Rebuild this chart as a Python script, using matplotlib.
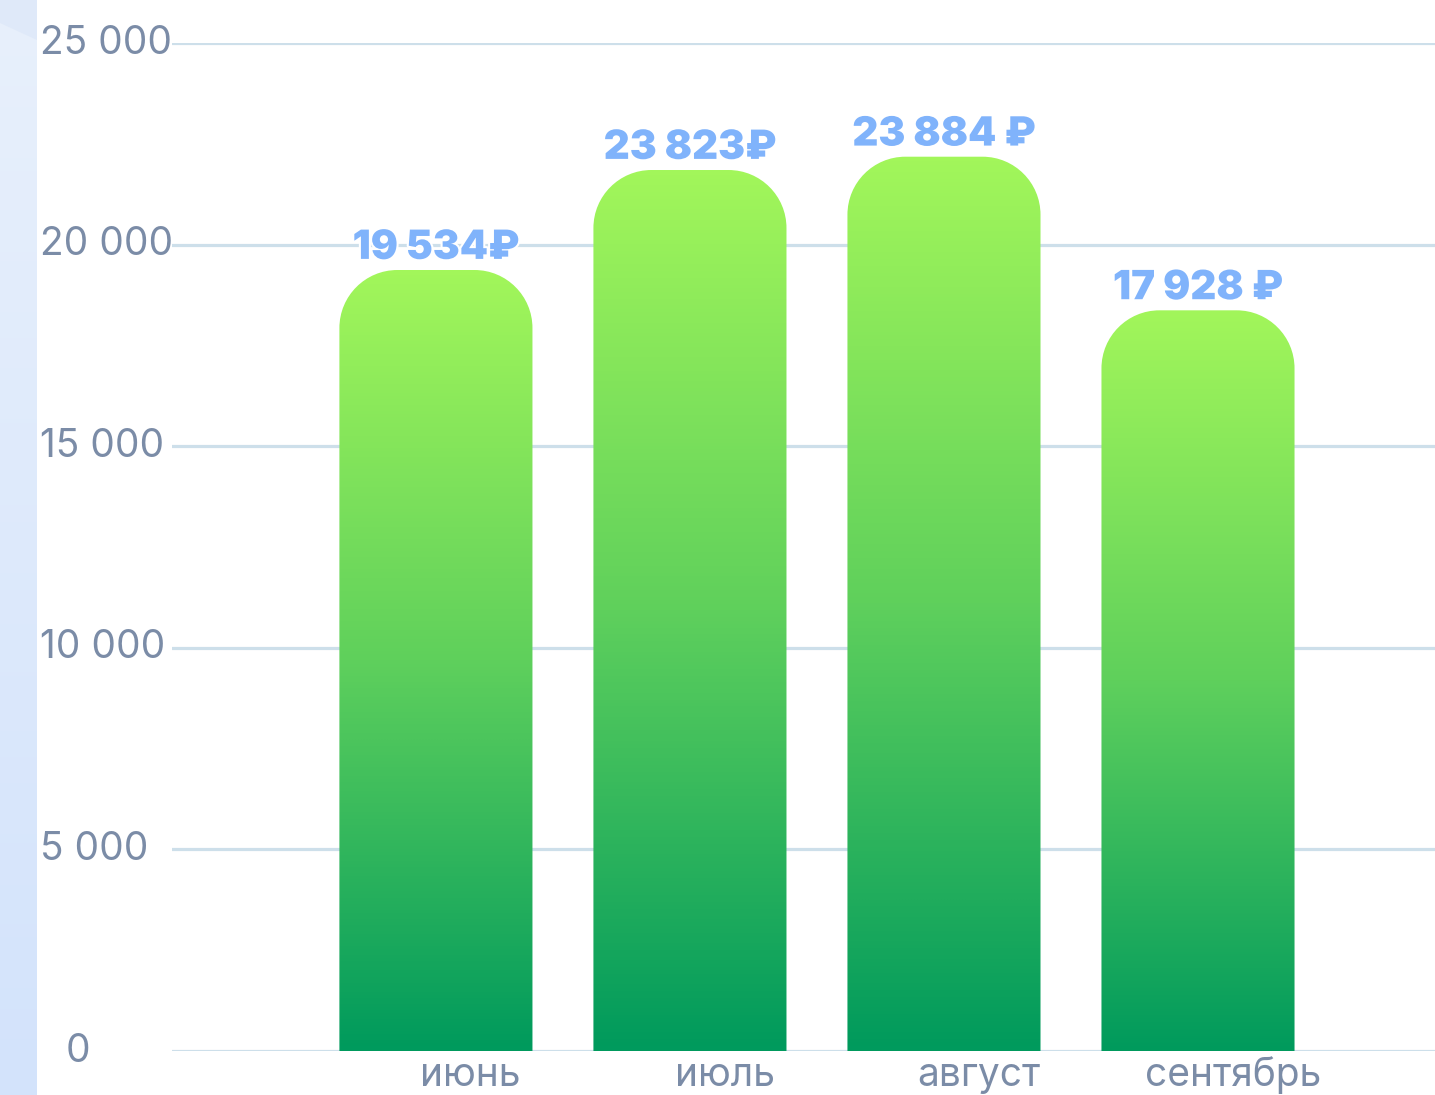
import numpy as np
import matplotlib
matplotlib.use("Agg")
import matplotlib.pyplot as plt
from matplotlib.path import Path
from matplotlib.patches import PathPatch, Polygon
from matplotlib.colors import LinearSegmentedColormap
import matplotlib.patheffects as pe

# ---- data ----
months = ["июнь", "июль", "август", "сентябрь"]
bar_values = [19370, 21850, 22180, 18370]          # heights as drawn
value_labels = ["19 534₽", "23 823₽", "23 884 ₽", "17 928 ₽"]
y_ticks = [0, 5000, 10000, 15000, 20000, 25000]
y_tick_labels = ["0", "5 000", "10 000", "15 000", "20 000", "25 000"]

FONT = ["Inter", "DejaVu Sans"]
TICK_COLOR = "#7b8ca7"
GRID_COLOR = "#cddfea"
LABEL_COLOR = "#80b3fb"

W, H = 1435, 1095
fig = plt.figure(figsize=(W / 100, H / 100), dpi=100)
fig.patch.set_facecolor("white")

# left decorative strip
sax = fig.add_axes([0, 0, 37 / W, 1])
sax.set_axis_off()
strip_cmap = LinearSegmentedColormap.from_list("strip", ["#e8f0fc", "#d3e3fb"])
sax.imshow(np.linspace(0, 1, 256).reshape(-1, 1), cmap=strip_cmap, aspect="auto",
           extent=(0, 1, 0, 1), origin="upper")
sax.add_patch(Polygon([(0, 1), (1, 1), (1, 1 - 40 / H), (0, 1 - 23 / H)],
                      closed=True, facecolor="#dfe9f9", edgecolor="none"))
sax.set_xlim(0, 1)
sax.set_ylim(0, 1)

# main axes
ax = fig.add_axes([172 / W, 44 / H, (W - 172) / W, (1051 - 43) / H])
ax.set_facecolor("none")
x = np.arange(len(months))
ax.set_xlim(-1.039, 3.933)
ax.set_ylim(0, 25000)
for s in ax.spines.values():
    s.set_visible(False)
ax.set_xticks([])
ax.set_yticks([])

for v in y_ticks:
    ax.axhline(v, color=GRID_COLOR, lw=2.3, zorder=1)

bar_w = 0.76
rad_px = 58
bar_cmap = LinearSegmentedColormap.from_list("bar", ["#009a5d", "#5fd05c", "#a2f65a"])

fig.canvas.draw()
px_per_x = ax.transData.transform((1, 0))[0] - ax.transData.transform((0, 0))[0]
px_per_y = ax.transData.transform((0, 1000))[1] - ax.transData.transform((0, 0))[1]
rx = rad_px / px_per_x
ry = rad_px / px_per_y * 1000
k = 0.5523

for xi, h, lab in zip(x, bar_values, value_labels):
    x0, x1 = xi - bar_w / 2, xi + bar_w / 2
    verts = [(x0, 0), (x0, h - ry),
             (x0, h - ry + k * ry), (x0 + rx - k * rx, h), (x0 + rx, h),
             (x1 - rx, h),
             (x1 - rx + k * rx, h), (x1, h - ry + k * ry), (x1, h - ry),
             (x1, 0), (x0, 0)]
    codes = [Path.MOVETO, Path.LINETO,
             Path.CURVE4, Path.CURVE4, Path.CURVE4,
             Path.LINETO,
             Path.CURVE4, Path.CURVE4, Path.CURVE4,
             Path.LINETO, Path.CLOSEPOLY]
    patch = PathPatch(Path(verts, codes), facecolor="none", edgecolor="none", zorder=2)
    ax.add_patch(patch)
    im = ax.imshow(np.linspace(1, 0, 256).reshape(-1, 1), cmap=bar_cmap, aspect="auto",
                   extent=(x0, x1, 0, h), origin="upper", zorder=2, interpolation="bilinear")
    im.set_clip_path(patch)
    ax.annotate(lab, xy=(xi, h), xytext=(0, 8), textcoords="offset points",
                ha="center", va="baseline", fontsize=29, fontweight="black",
                family=FONT, color=LABEL_COLOR, zorder=5, annotation_clip=False,
                path_effects=[pe.withStroke(linewidth=3, foreground="white")])
    ax.annotate(months[int(xi)], xy=(xi, 0), xycoords=("data", "axes fraction"),
                xytext=(25, -25.5), textcoords="offset points",
                ha="center", va="baseline", fontsize=28, family=FONT,
                color=TICK_COLOR, annotation_clip=False)

ax.set_xlim(-1.039, 3.933)
ax.set_ylim(0, 25000)

for v, t in zip(y_ticks, y_tick_labels):
    if t == "0":
        ax.annotate(t, xy=(78, v), xycoords=("figure pixels", "data"),
                    ha="center", va="center", fontsize=28, family=FONT,
                    color=TICK_COLOR, annotation_clip=False)
    else:
        ax.annotate(t, xy=(40, v), xycoords=("figure pixels", "data"),
                    ha="left", va="center", fontsize=28, family=FONT,
                    color=TICK_COLOR, annotation_clip=False)

fig.savefig("out.png", dpi=100)
